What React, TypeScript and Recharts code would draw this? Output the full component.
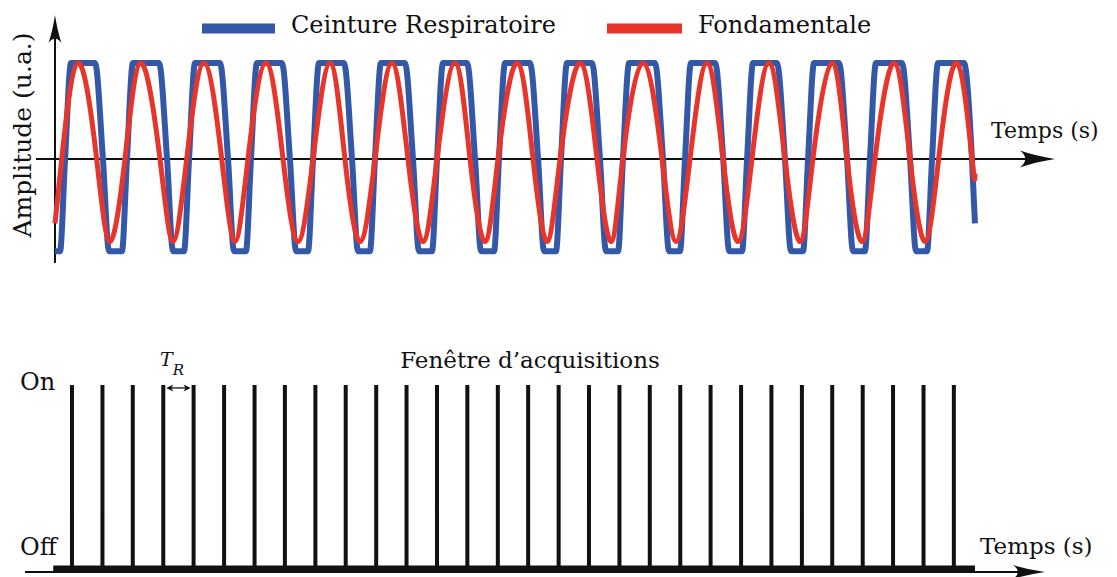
import React from 'react';
import { LineChart, Line, XAxis, YAxis, ReferenceLine } from 'recharts';

// temps en s (1 s = ~15.7 px)
const fondTime = [
  0, 0.43, 1.46, 2.65, 3.5, 4.45, 5.47, 6.68, 7.51, 8.38, 9.48, 10.61, 11.45,
  12.28, 13.43, 14.51, 15.46, 16.42, 17.5, 18.45, 19.41, 20.36, 21.44, 22.46, 23.42,
  24.31, 25.45, 26.41, 27.36, 28.19, 29.4, 30.42, 31.31, 32.14, 33.41, 34.49, 35.38,
  36.14, 37.41, 38.63, 39.52, 40.41, 41.49, 42.51, 43.46, 44.35, 45.43, 46.45, 47.41,
  48.23, 49.44, 50.4, 51.35, 52.18, 53.39, 54.41, 55.36, 56.23, 57.4, 58.35, 58.54,
];
const fondAmp = [
  -0.67, 0, 1, 0, -0.86, 0, 1, 0, -0.86, 0, 1, 0, -0.86,
  0, 1, 0, -0.86, 0, 1, 0, -0.86, 0, 1, 0, -0.86,
  0, 1, 0, -0.86, 0, 1, 0, -0.86, 0, 1, 0, -0.86,
  0, 1, 0, -0.86, 0, 1, 0, -0.86, 0, 1, 0, -0.86,
  0, 1, 0, -0.86, 0, 1, 0, -0.86, 0, 1, 0, -0.15,
];

const ceintTime = [
  0,
  0.32, 0.64, 1.02, 2.55, 3.05, 3.44,
  4.26, 4.58, 4.96, 6.62, 7.13, 7.51,
  8.21, 8.53, 8.91, 10.5, 11.01, 11.39,
  12.15, 12.47, 12.85, 14.44, 14.95, 15.34,
  16.1, 16.42, 16.8, 18.39, 18.9, 19.28,
  20.04, 20.36, 20.74, 22.27, 22.78, 23.16,
  23.99, 24.31, 24.69, 26.22, 26.73, 27.11,
  27.94, 28.25, 28.64, 30.23, 30.74, 31.12,
  31.88, 32.2, 32.58, 34.17, 34.68, 35.06,
  35.83, 36.14, 36.53, 38.18, 38.69, 39.07,
  39.77, 40.09, 40.47, 42.01, 42.52, 42.9,
  43.72, 44.04, 44.42, 45.94, 46.45, 46.83,
  47.6, 47.92, 48.3, 49.89, 50.4, 50.78,
  51.54, 51.86, 52.24, 53.9, 54.41, 54.79,
  55.49, 55.81, 56.19, 57.84, 58.35, 58.54,
];
const ceintAmp = [
  -0.96,
  -0.96, 0, 1, 1, 0, -0.96,
  -0.96, 0, 1, 1, 0, -0.96,
  -0.96, 0, 1, 1, 0, -0.96,
  -0.96, 0, 1, 1, 0, -0.96,
  -0.96, 0, 1, 1, 0, -0.96,
  -0.96, 0, 1, 1, 0, -0.96,
  -0.96, 0, 1, 1, 0, -0.96,
  -0.96, 0, 1, 1, 0, -0.96,
  -0.96, 0, 1, 1, 0, -0.96,
  -0.96, 0, 1, 1, 0, -0.96,
  -0.96, 0, 1, 1, 0, -0.96,
  -0.96, 0, 1, 1, 0, -0.96,
  -0.96, 0, 1, 1, 0, -0.96,
  -0.96, 0, 1, 1, 0, -0.96,
  -0.96, 0, 1, 1, 0, -0.67,
];

// impulsions d'acquisition (TR ~ 1.94 s)
const pulseTime = [
  1.08, 3.02, 4.95, 6.89, 8.82, 10.76, 12.7, 14.63, 16.57, 18.5,
  20.44, 22.37, 24.31, 26.24, 28.18, 30.11, 32.05, 33.98, 35.92, 37.85,
  39.79, 41.72, 43.66, 45.59, 47.53, 49.46, 51.4, 53.33, 55.27, 57.2,
];
const offTime = [-0.1, 58.54];

const seriesNames = ['Ceinture Respiratoire', 'Fondamentale'];
const stateLabels = ['Off', 'On'];
const timeLabel = 'Temps (s)';
const ampLabel = 'Amplitude (u.a.)';
const windowLabel = 'Fenêtre d’acquisitions';

const BLUE = '#3458a8';
const RED = '#e8352b';
const INK = '#111';
const FONT = '"DejaVu Serif", serif';

const fondData = fondTime.map((t, i) => ({ t, v: fondAmp[i] }));
const ceintData = ceintTime.map((t, i) => ({ t, v: ceintAmp[i] }));
const pulseData = [
  { t: offTime[0], v: 0 },
  ...pulseTime.flatMap((t) => [{ t, v: 0 }, { t, v: 1 }, { t, v: 0 }]),
  { t: offTime[1], v: 0 },
];
const offData = offTime.map((t) => ({ t, v: 0 }));

const arrowRight = (len: number, half: number) => (props: any) => {
  const { x1, x2, y1 } = props;
  const xs = Math.min(x1, x2);
  const xe = Math.max(x1, x2);
  const y = y1;
  return (
    <g>
      <line x1={xs} y1={y} x2={xe - len * 0.6} y2={y} stroke={INK} strokeWidth={2} />
      <path
        d={`M${xe},${y} Q${xe - len * 0.55},${y - half * 0.35} ${xe - len},${y - half} Q${xe - len * 0.7},${y} ${xe - len},${y + half} Q${xe - len * 0.55},${y + half * 0.35} ${xe},${y} Z`}
        fill={INK}
      />
    </g>
  );
};

const arrowUp = (len: number, half: number) => (props: any) => {
  const { x1, y1, y2 } = props;
  const ye = Math.min(y1, y2);
  const ys = Math.max(y1, y2);
  const x = x1;
  return (
    <g>
      <line x1={x} y1={ys} x2={x} y2={ye + len * 0.6} stroke={INK} strokeWidth={2} />
      <path
        d={`M${x},${ye} Q${x - half * 0.35},${ye + len * 0.55} ${x - half},${ye + len} Q${x},${ye + len * 0.7} ${x + half},${ye + len} Q${x + half * 0.35},${ye + len * 0.55} ${x},${ye} Z`}
        fill={INK}
      />
    </g>
  );
};

const doubleArrow = (props: any) => {
  const { x1, x2, y1 } = props;
  const a = Math.min(x1, x2) + 3;
  const b = Math.max(x1, x2) - 3;
  const y = y1;
  return (
    <g>
      <line x1={a + 3} y1={y} x2={b - 3} y2={y} stroke={INK} strokeWidth={1.3} />
      <path d={`M${a},${y} L${a + 7},${y - 3.5} L${a + 5},${y} L${a + 7},${y + 3.5} Z`} fill={INK} />
      <path d={`M${b},${y} L${b - 7},${y - 3.5} L${b - 5},${y} L${b - 7},${y + 3.5} Z`} fill={INK} />
    </g>
  );
};

const App: React.FC = () => {
  return (
    <div style={{ position: 'absolute', left: 0, top: 0, width: 1117, height: 577, background: '#fff' }}>
      <div style={{ position: 'absolute', left: 0, top: 0 }}>
        <LineChart width={1117} height={290} margin={{ top: 15, right: 62, bottom: 27, left: 36 }}>
          <XAxis type="number" dataKey="t" domain={[-1.209, 63.634]} hide allowDataOverflow />
          <YAxis type="number" domain={[-1.083, 1.5]} hide allowDataOverflow />
          <ReferenceLine y={0} shape={arrowRight(35, 8.5)} />
          <ReferenceLine x={0} shape={arrowUp(28, 6.5)} />
          <Line
            data={ceintData}
            dataKey="v"
            type="monotone"
            stroke={BLUE}
            strokeWidth={6}
            dot={false}
            isAnimationActive={false}
          />
          <Line
            data={fondData}
            dataKey="v"
            type="natural"
            stroke={RED}
            strokeWidth={5}
            dot={false}
            isAnimationActive={false}
          />
        </LineChart>
      </div>

      <div style={{ position: 'absolute', left: 0, top: 330 }}>
        <LineChart width={1117} height={247} margin={{ top: 55, right: 72, bottom: 1, left: 25 }}>
          <XAxis type="number" dataKey="t" domain={[-1.909, 63.0]} hide allowDataOverflow />
          <YAxis type="number" domain={[-0.041, 1]} hide />
          <ReferenceLine y={-0.019} shape={arrowRight(32, 7)} />
          <Line
            data={offData}
            dataKey="v"
            type="linear"
            stroke={INK}
            strokeWidth={6}
            dot={false}
            isAnimationActive={false}
          />
          <Line
            data={pulseData}
            dataKey="v"
            type="linear"
            stroke={INK}
            strokeWidth={4}
            dot={false}
            isAnimationActive={false}
          />
          <ReferenceLine
            segment={[{ x: pulseTime[3], y: 0.984 }, { x: pulseTime[4], y: 0.984 }]}
            shape={doubleArrow}
          />
        </LineChart>
      </div>

      <svg
        width={1117}
        height={577}
        style={{ position: 'absolute', left: 0, top: 0, pointerEvents: 'none' }}
        fontFamily={FONT}
        fill={INK}
      >
        <rect x={202} y={23.5} width={73} height={10} fill={BLUE} />
        <text x={291} y={33} fontSize={24}>{seriesNames[0]}</text>
        <rect x={607} y={23.5} width={75} height={10} fill={RED} />
        <text x={698} y={33} fontSize={24}>{seriesNames[1]}</text>
        <text x={991} y={138} fontSize={22}>{timeLabel}</text>
        <text transform="translate(31,135) rotate(-90)" textAnchor="middle" fontSize={25}>
          {ampLabel}
        </text>

        <text x={20} y={390} fontSize={24}>{stateLabels[1]}</text>
        <text x={20} y={555} fontSize={24}>{stateLabels[0]}</text>
        <text x={530} y={368} textAnchor="middle" fontSize={23}>{windowLabel}</text>
        <text x={160} y={366} fontSize={19} fontStyle="italic">
          T<tspan fontSize={15} dy={9}>R</tspan>
        </text>
        <text x={980} y={554} fontSize={23}>{timeLabel}</text>
      </svg>
    </div>
  );
};

export default App;
